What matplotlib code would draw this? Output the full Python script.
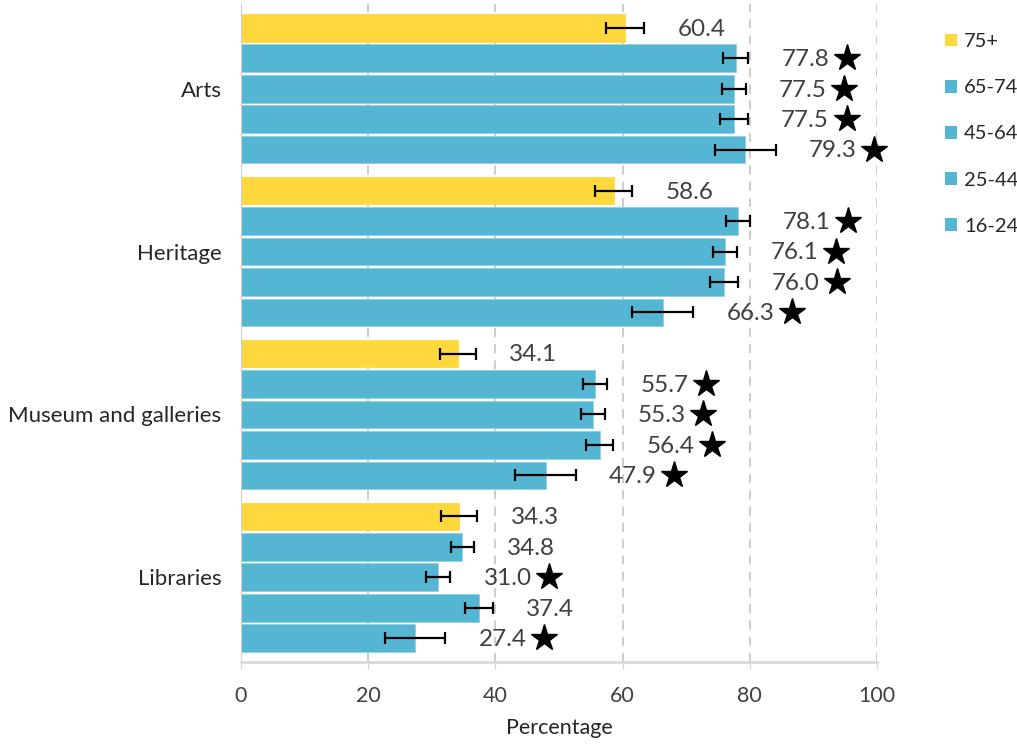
import matplotlib
matplotlib.use("Agg")
import matplotlib.pyplot as plt
import matplotlib.transforms as mtransforms
from matplotlib.patches import Patch
import numpy as np

plt.rcParams['font.family'] = ['Lato', 'DejaVu Sans']

# Participation by age group (percentage) with confidence intervals
categorias = ['Arts', 'Heritage', 'Museum and galleries', 'Libraries']
edades = ['75+', '65-74', '45-64', '25-44', '16-24']

valores = {
    '75+':   [60.4, 58.6, 34.1, 34.3],
    '65-74': [77.8, 78.1, 55.7, 34.8],
    '45-64': [77.5, 76.1, 55.3, 31.0],
    '25-44': [77.5, 76.0, 56.4, 37.4],
    '16-24': [79.3, 66.3, 47.9, 27.4],
}
errores = {
    '75+':   [3.0, 2.95, 2.85, 2.85],
    '65-74': [1.95, 1.9, 1.9, 1.85],
    '45-64': [1.85, 1.95, 1.9, 1.9],
    '25-44': [2.2, 2.2, 2.15, 2.15],
    '16-24': [4.8, 4.8, 4.75, 4.75],
}
# significant difference from the 75+ group
significativo = {
    '75+':   [False, False, False, False],
    '65-74': [True, True, True, False],
    '45-64': [True, True, True, True],
    '25-44': [True, True, True, False],
    '16-24': [True, True, True, True],
}

amarillo = '#FFD83D'
azul = '#54B6D3'
gris_texto = '#404040'

fig = plt.figure(figsize=(10.17, 7.44), dpi=100)
ax = fig.add_axes([241/1017, 1 - 662/744, 636/1017, 658/744])

grupos = np.arange(len(categorias))
paso = 0.187
alto = 0.17

# stars sit a fixed distance to the right of each error bar
tr_estrella = mtransforms.offset_copy(ax.transData, fig=fig, x=71, y=0, units='points')

for i, edad in enumerate(edades):
    y = grupos + (i - 2) * paso
    color = amarillo if edad == '75+' else azul
    ax.barh(y, valores[edad], height=alto, color=color, edgecolor='#8FD0E3' if edad != '75+' else amarillo,
            linewidth=0.6, xerr=errores[edad], zorder=2,
            error_kw=dict(ecolor='black', elinewidth=1.6, capsize=4.5, capthick=1.6, zorder=3))
    for yy, v, e, s in zip(y, valores[edad], errores[edad], significativo[edad]):
        ax.annotate(f'{v:.1f}', xy=(v + e, yy), xytext=(24, -1), textcoords='offset points',
                    ha='left', va='center', fontsize=17.5, color=gris_texto)
        if s:
            ax.plot(v + e, yy, marker='*', markersize=19.5, color='black', linestyle='none',
                    transform=tr_estrella, clip_on=False, zorder=4)

ax.set_xlim(0, 100)
ax.set_ylim(len(categorias) - 0.48, -0.52)
ax.set_xticks([0, 20, 40, 60, 80, 100])
ax.set_yticks(grupos)
ax.set_yticklabels(categorias)

ax.set_axisbelow(True)
ax.xaxis.grid(True, linestyle=(0, (5, 4)), color='#C8C8C8', linewidth=1.3)

for lado in ['top', 'right']:
    ax.spines[lado].set_visible(False)
ax.spines['left'].set_color('#D0D0D0')
ax.spines['bottom'].set_color('#D9D9D9')
ax.spines['bottom'].set_linewidth(2)

ax.tick_params(axis='x', length=5, color='#D9D9D9', width=1, labelsize=15.5,
               labelcolor=gris_texto, pad=12)
ax.tick_params(axis='y', length=0, labelsize=16, labelcolor='#262626', pad=14)

ax.set_xlabel('Percentage', fontsize=15.5, color='#262626', labelpad=9)

manejadores = [Patch(facecolor=amarillo if e == '75+' else azul, label=e) for e in edades]
fig.legend(handles=manejadores, loc='upper left', bbox_to_anchor=(935/1017, 1 - 23/744),
           frameon=False, fontsize=14.5, labelcolor='#262626', handlelength=0.6,
           handleheight=0.6, handletextpad=0.35, labelspacing=1.45, borderpad=0)

plt.savefig('out.png', dpi=100)
